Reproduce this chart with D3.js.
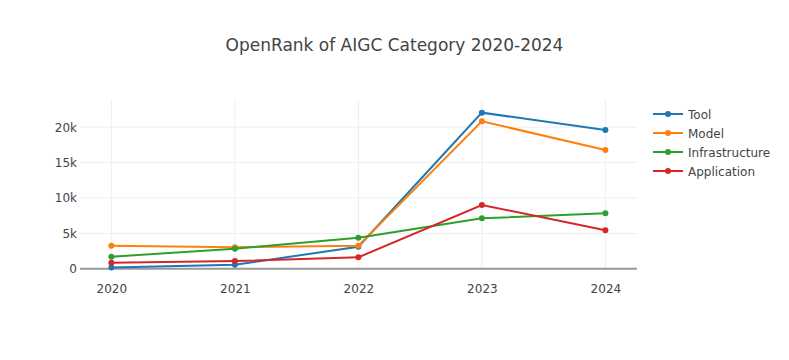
<!DOCTYPE html>
<html><head><meta charset="utf-8">
<script src="https://cdn.jsdelivr.net/npm/d3@7"></script>
<style>body{margin:0;background:#fff}svg{display:block}</style>
</head><body>
<svg id="chart" width="789" height="360"></svg>
<script>
const years = [2020, 2021, 2022, 2023, 2024];
const seriesNames = ["Tool", "Model", "Infrastructure", "Application"];
const seriesColors = ["#1f77b4", "#ff7f0e", "#2ca02c", "#d62728"];
const toolValues = [200, 570, 3120, 22050, 19600];
const modelValues = [3260, 3040, 3260, 20830, 16780];
const infrastructureValues = [1700, 2840, 4390, 7130, 7840];
const applicationValues = [850, 1090, 1620, 9010, 5440];
const yTicks = [0, 5000, 10000, 15000, 20000];
const yTickLabels = ["0", "5k", "10k", "15k", "20k"];
const titleText = "OpenRank of AIGC Category 2020-2024";

const allValues = [toolValues, modelValues, infrastructureValues, applicationValues];
const font = "verdana, 'DejaVu Sans', sans-serif";
const svg = d3.select("#chart");
const L = 80, R = 637, T = 100, B = 268.8;

const x = d3.scaleLinear().domain([2019.746, 2024.256]).range([L, R]);
const y = d3.scaleLinear().domain([0, 23840]).range([B, T]);

const g = svg.append("g");
g.selectAll(".vg").data(years).join("line")
  .attr("x1", d => x(d)).attr("x2", d => x(d)).attr("y1", T).attr("y2", B)
  .attr("stroke", "#eee").attr("stroke-width", 1);
g.selectAll(".hg").data(yTicks.slice(1)).join("line")
  .attr("x1", L).attr("x2", R).attr("y1", d => y(d)).attr("y2", d => y(d))
  .attr("stroke", "#eee").attr("stroke-width", 1);
g.append("line").attr("x1", L).attr("x2", R).attr("y1", y(0)).attr("y2", y(0))
  .attr("stroke", "#999").attr("stroke-width", 2);

const yAxis = d3.axisLeft(y).tickValues(yTicks).tickFormat((d, i) => yTickLabels[i]).tickSize(0).tickPadding(3);
const ya = svg.append("g").attr("transform", `translate(${L},0)`).call(yAxis);
ya.select(".domain").remove();
ya.selectAll("text").attr("font-family", font).attr("font-size", 12).attr("fill", "#444");

const xAxis = d3.axisBottom(x).tickValues(years).tickFormat(d3.format("d")).tickSize(0).tickPadding(16);
const xa = svg.append("g").attr("transform", `translate(0,${B})`).call(xAxis);
xa.select(".domain").remove();
xa.selectAll("text").attr("font-family", font).attr("font-size", 12).attr("fill", "#444");

const line = d3.line().x((d, i) => x(years[i])).y(d => y(d));
allValues.forEach((vals, si) => {
  svg.append("path").datum(vals).attr("d", line).attr("fill", "none")
    .attr("stroke", seriesColors[si]).attr("stroke-width", 2);
  svg.append("g").selectAll("circle").data(vals).join("circle")
    .attr("cx", (d, i) => x(years[i])).attr("cy", d => y(d)).attr("r", 3)
    .attr("fill", seriesColors[si]);
});

svg.append("text").attr("x", 394.5).attr("y", 51).attr("text-anchor", "middle")
  .attr("font-family", font).attr("font-size", 17).attr("fill", "#444").text(titleText);

const lg = svg.append("g");
seriesNames.forEach((n, i) => {
  const yy = 114 + i * 19;
  lg.append("line").attr("x1", 653).attr("x2", 683).attr("y1", yy).attr("y2", yy)
    .attr("stroke", seriesColors[i]).attr("stroke-width", 2);
  lg.append("circle").attr("cx", 668).attr("cy", yy).attr("r", 3).attr("fill", seriesColors[i]);
  lg.append("text").attr("x", 688).attr("y", yy + 4.5).attr("font-family", font)
    .attr("font-size", 12).attr("fill", "#444").text(n);
});
</script>
</body></html>
